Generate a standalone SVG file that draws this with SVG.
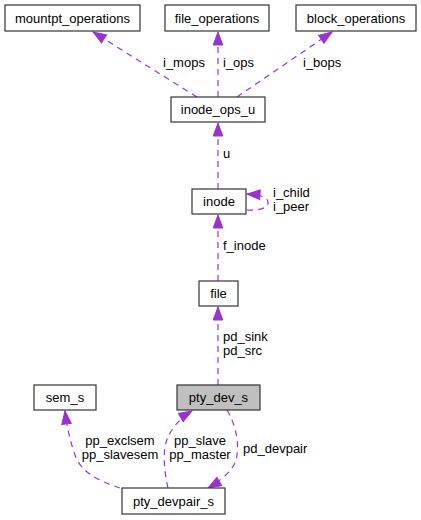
<svg xmlns="http://www.w3.org/2000/svg" width="421" height="520" viewBox="0 0 421 520">
<style>
.box{fill:#fff;stroke:#333;stroke-width:1.2}
.hl{fill:#bfbfbf}
.t{font-family:"Liberation Sans",Arial,sans-serif;font-size:13px;fill:#000;text-anchor:middle}
.l{font-family:"Liberation Sans",Arial,sans-serif;font-size:13px;fill:#000}
.e{fill:none;stroke:#9a32cd;stroke-width:1.2;stroke-dasharray:6,5}
</style>
<defs>
<marker id="ah" markerUnits="userSpaceOnUse" markerWidth="16" markerHeight="12" viewBox="-14 -6 16 12" refX="0" refY="0" orient="auto">
<path d="M0,0 L-13,-4.8 L-13,4.8 z" fill="#9a32cd" stroke="#9a32cd" stroke-width="1"/>
</marker>
</defs>
<rect width="421" height="520" fill="#fff"/>
<g id="edges">
<path class="e" d="M197,97 L93,32" marker-end="url(#ah)"/>
<path class="e" d="M218,97 L218,32" marker-end="url(#ah)"/>
<path class="e" d="M237,97 L332,32" marker-end="url(#ah)"/>
<path class="e" d="M218,189 L218,123" marker-end="url(#ah)"/>
<path class="e" d="M247,210 C258,211 268,208 268,203 C268,198 264,195 247,194" marker-end="url(#ah)"/>
<path class="e" d="M218,281 L218,215" marker-end="url(#ah)"/>
<path class="e" d="M218,385 L218,307" marker-end="url(#ah)"/>
<path class="e" d="M120,488 C95,480 80,470 75,455 C70,440 67,428 65,411" marker-end="url(#ah)"/>
<path class="e" d="M168,488 C164,470 162,450 168,437 C172,428 180,418 192,411" marker-end="url(#ah)"/>
<path class="e" d="M227,410 C236,425 240,445 236,460 C233,470 222,480 208,488" marker-end="url(#ah)"/>
<text class="l" x="163" y="67">i_mops</text>
<text class="l" x="223" y="67">i_ops</text>
<text class="l" x="303" y="67">i_bops</text>
<text class="l" x="223" y="158">u</text>
<text class="l" x="273" y="197">i_child</text>
<text class="l" x="273" y="211">i_peer</text>
<text class="l" x="223" y="250">f_inode</text>
<text class="l" x="223" y="341">pd_sink</text>
<text class="l" x="223" y="355">pd_src</text>
<text class="t" x="120" y="445">pp_exclsem</text>
<text class="t" x="120" y="459">pp_slavesem</text>
<text class="t" x="200" y="445">pp_slave</text>
<text class="t" x="200" y="459">pp_master</text>
<text class="l" x="243" y="453">pd_devpair</text>
</g>
<g id="mountpt_operations"><rect class="box" x="5" y="5" width="135" height="26"/><text class="t" x="72.5" y="22.5">mountpt_operations</text></g>
<g id="file_operations"><rect class="box" x="165" y="5" width="104" height="26"/><text class="t" x="217" y="22.5">file_operations</text></g>
<g id="block_operations"><rect class="box" x="296" y="5" width="120" height="26"/><text class="t" x="356" y="22.5">block_operations</text></g>
<g id="inode_ops_u"><rect class="box" x="171" y="97" width="94" height="25"/><text class="t" x="218" y="114">inode_ops_u</text></g>
<g id="inode"><rect class="box" x="192" y="189" width="54" height="25"/><text class="t" x="219" y="206">inode</text></g>
<g id="file"><rect class="box" x="199" y="281" width="39" height="25"/><text class="t" x="218.5" y="298">file</text></g>
<g id="pty_dev_s"><rect class="box hl" x="177" y="385" width="83" height="25"/><text class="t" x="218.5" y="402">pty_dev_s</text></g>
<g id="sem_s"><rect class="box" x="34" y="385" width="62" height="25"/><text class="t" x="65" y="402">sem_s</text></g>
<g id="pty_devpair_s"><rect class="box" x="122" y="488" width="103" height="26"/><text class="t" x="173.5" y="505.5">pty_devpair_s</text></g>
</svg>
